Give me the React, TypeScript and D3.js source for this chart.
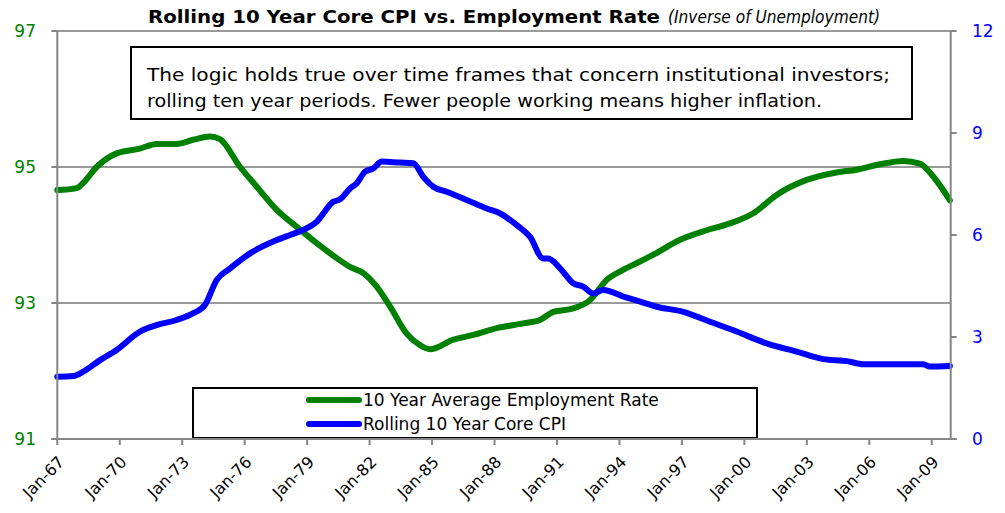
import React, { useLayoutEffect, useRef, useState } from "react";
import * as d3 from "d3";

const empYears = [1967.0, 1967.93, 1968.23, 1968.89, 1969.85, 1970.97, 1971.77, 1972.73, 1973.52, 1974.33, 1974.81, 1975.78, 1976.58, 1977.54, 1978.5, 1979.46, 1980.42, 1981.06, 1981.7, 1982.34, 1982.98, 1983.78, 1984.42, 1984.9, 1986.02, 1986.98, 1988.1, 1989.38, 1990.18, 1990.82, 1991.78, 1992.58, 1993.39, 1994.19, 1994.99, 1995.63, 1996.91, 1998.19, 1999.31, 2000.43, 2001.55, 2002.99, 2004.43, 2005.39, 2006.51, 2007.63, 2008.43, 2009.07, 2009.87];
const empValues = [94.66, 94.69, 94.76, 95.0, 95.2, 95.27, 95.34, 95.34, 95.4, 95.45, 95.41, 95.0, 94.71, 94.37, 94.12, 93.88, 93.66, 93.53, 93.44, 93.24, 92.95, 92.55, 92.38, 92.32, 92.46, 92.53, 92.63, 92.7, 92.75, 92.87, 92.92, 93.04, 93.34, 93.49, 93.61, 93.71, 93.93, 94.07, 94.17, 94.32, 94.59, 94.81, 94.92, 94.96, 95.04, 95.09, 95.05, 94.86, 94.51];

const cpiYears = [1967.0, 1967.77, 1968.25, 1969.05, 1969.85, 1970.97, 1971.77, 1972.73, 1973.53, 1974.09, 1974.66, 1975.3, 1976.26, 1977.54, 1978.18, 1978.82, 1979.46, 1980.26, 1980.58, 1981.06, 1981.38, 1981.78, 1982.18, 1982.58, 1983.46, 1984.1, 1984.58, 1985.06, 1985.7, 1986.66, 1987.62, 1988.26, 1989.07, 1989.7, 1990.34, 1990.58, 1991.15, 1991.78, 1992.26, 1992.74, 1993.22, 1994.19, 1994.99, 1995.79, 1997.07, 1998.35, 1999.63, 2001.07, 2002.51, 2003.79, 2004.92, 2005.71, 2007.32, 2008.59, 2008.91, 2009.87];
const cpiValues = [1.83, 1.85, 1.98, 2.32, 2.62, 3.16, 3.35, 3.5, 3.7, 3.94, 4.68, 5.02, 5.46, 5.85, 6.0, 6.15, 6.39, 6.98, 7.05, 7.37, 7.52, 7.86, 7.96, 8.16, 8.13, 8.11, 7.71, 7.42, 7.27, 7.03, 6.78, 6.64, 6.29, 5.95, 5.31, 5.31, 5.02, 4.58, 4.48, 4.28, 4.38, 4.19, 4.04, 3.89, 3.74, 3.45, 3.16, 2.81, 2.57, 2.35, 2.29, 2.2, 2.2, 2.2, 2.13, 2.15];

const xTickYears = [1967, 1970, 1973, 1976, 1979, 1982, 1985, 1988, 1991, 1994, 1997, 2000, 2003, 2006, 2009];
const leftTicks = [91, 93, 95, 97];
const rightTicks = [0, 3, 6, 9, 12];

const titleBold = "Rolling 10 Year Core CPI vs. Employment Rate";
const titleItalic = "(Inverse of Unemployment)";
const noteLines = [
  "The logic holds true over time frames that concern institutional investors;",
  "rolling ten year periods. Fewer people working means higher inflation.",
];
const legendLabels = ["10 Year Average Employment Rate", "Rolling 10 Year Core CPI"];

const W = 1005;
const H = 513;
const FONT = "Tahoma, 'DejaVu Sans', sans-serif";

export default function App() {
  const left = 57.3;
  const right = 950.7;
  const top = 31;
  const bottom = 439;

  const noteRef = useRef<SVGTextElement>(null);
  const [wordSpacing, setWordSpacing] = useState(0);

  useLayoutEffect(() => {
    const el = noteRef.current;
    if (!el) return;
    const natural = el.getComputedTextLength();
    const spaces = noteLines[0].split(" ").length - 1;
    const target = 743;
    setWordSpacing(Math.max(0, (target - natural) / spaces));
  }, []);

  const x = d3.scaleLinear().domain([1967, 2009.91]).range([left, right]);
  const yL = d3.scaleLinear().domain([91, 97]).range([bottom, top]);
  const yR = d3.scaleLinear().domain([0, 12]).range([bottom, top]);

  const empLine = d3
    .line<number>()
    .x((_, i) => x(empYears[i]))
    .y((d) => yL(d))
    .curve(d3.curveMonotoneX);
  const cpiLine = d3
    .line<number>()
    .x((_, i) => x(cpiYears[i]))
    .y((d) => yR(d))
    .curve(d3.curveMonotoneX);

  const axisColor = "#868686";
  const green = "#008000";
  const blue = "#0000ff";

  return (
    <svg
      width={W}
      height={H}
      style={{ position: "absolute", left: 0, top: 0, background: "#fff" }}
      fontFamily={FONT}
    >
      <rect x={0} y={0} width={W} height={H} fill="#fff" />
      {/* title */}
      <text x={148} y={23} fontSize={18} fill="#000">
        <tspan fontWeight="bold" textLength={512} lengthAdjust="spacingAndGlyphs">{titleBold}</tspan>
        <tspan x={668} fontStyle="italic" textLength={212} lengthAdjust="spacingAndGlyphs">{titleItalic}</tspan>
      </text>

      {/* gridlines */}
      {leftTicks
        .filter((t) => t !== 91)
        .map((t) => (
          <line key={"g" + t} x1={left} x2={right} y1={yL(t)} y2={yL(t)} stroke="#999" strokeWidth={2} />
        ))}

      {/* annotation box */}
      <rect x={131} y={47} width={781} height={72} fill="#fff" stroke="#000" strokeWidth={2} />
      <text ref={noteRef} x={147} y={81} fontSize={18} fill="#000" wordSpacing={wordSpacing} textLength={743} lengthAdjust="spacingAndGlyphs">
        {noteLines[0]}
      </text>
      <text x={147} y={107} fontSize={18} fill="#000" textLength={675} lengthAdjust="spacingAndGlyphs">
        {noteLines[1]}
      </text>

      {/* series */}
      <path d={empLine(empValues) || ""} fill="none" stroke={green} strokeWidth={6} strokeLinejoin="round" strokeLinecap="round" />
      <path d={cpiLine(cpiValues) || ""} fill="none" stroke={blue} strokeWidth={6} strokeLinejoin="round" strokeLinecap="round" />

      {/* legend */}
      <rect x={193} y={388} width={564} height={50} fill="#fff" stroke="#000" strokeWidth={2} />
      <line x1={309} x2={359} y1={400} y2={400} stroke={green} strokeWidth={6} strokeLinecap="round" />
      <text x={363} y={406} fontSize={17} fill="#000">{legendLabels[0]}</text>
      <line x1={309} x2={359} y1={424} y2={424} stroke={blue} strokeWidth={6} strokeLinecap="round" />
      <text x={363} y={430} fontSize={17} fill="#000">{legendLabels[1]}</text>

      {/* axes */}
      <line x1={left} x2={left} y1={top} y2={bottom} stroke={axisColor} strokeWidth={2} />
      <line x1={right} x2={right} y1={top} y2={bottom} stroke={axisColor} strokeWidth={2} />
      <line x1={left - 6} x2={right + 6} y1={bottom} y2={bottom} stroke={axisColor} strokeWidth={2} />

      {leftTicks.map((t) => (
        <g key={"l" + t}>
          <line x1={left - 6} x2={left} y1={yL(t)} y2={yL(t)} stroke={axisColor} strokeWidth={2} />
          <text x={36} y={yL(t) + 6} textAnchor="end" fontSize={17} fill={green}>
            {t}
          </text>
        </g>
      ))}
      {rightTicks.map((t) => (
        <g key={"r" + t}>
          <line x1={right} x2={right + 6} y1={yR(t)} y2={yR(t)} stroke={axisColor} strokeWidth={2} />
          <text x={972} y={yR(t) + 6} textAnchor="start" fontSize={17} fill={blue}>
            {t}
          </text>
        </g>
      ))}
      {xTickYears.map((yr) => (
        <g key={"x" + yr}>
          <line x1={x(yr)} x2={x(yr)} y1={bottom} y2={bottom + 6} stroke={axisColor} strokeWidth={2} />
          <text
            transform={`translate(${x(yr) + 8},${bottom + 24}) rotate(-45)`}
            textAnchor="end"
            fontSize={16}
            fill="#000"
          >
            {"Jan-" + String(yr % 100).padStart(2, "0")}
          </text>
        </g>
      ))}
    </svg>
  );
}
